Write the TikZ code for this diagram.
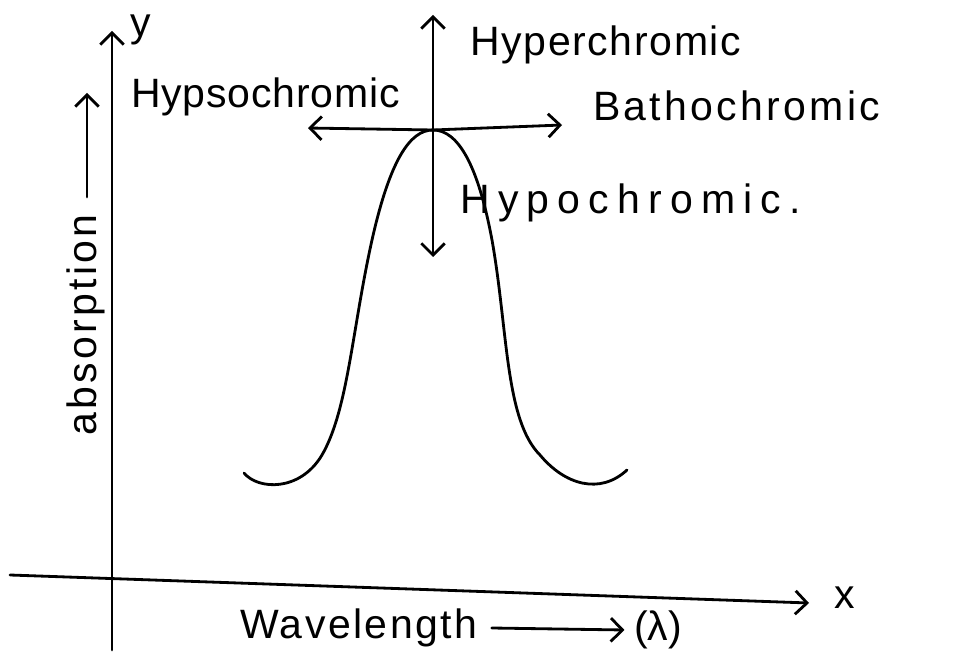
\documentclass[tikz,border=0pt]{standalone}
\usepackage{fontspec}
\setmainfont{Liberation Sans}
\usetikzlibrary{arrows.meta}
\tikzset{
  pen/.style={line width=2.4pt, black, line cap=round, line join=round},
  tip/.style={-{Straight Barb[length=10pt,width=20pt,line width=2.4pt]}},
  lbl/.style={inner sep=0pt, font=\fontsize{35}{38}\selectfont},
}
\begin{document}
\begin{tikzpicture}[x=0.03cm,y=-0.03cm]
\useasboundingbox (0,0) rectangle (967,655);
\fill[white] (0,0) rectangle (967,655);
% axes
\coordinate (yb) at (112,650);
\coordinate (yt) at (112,31);
\coordinate (xl) at (10,575);
\coordinate (xr) at (809,603);
\draw[pen,tip] (yb) -- (yt);
\draw[pen,tip] (xl) -- (xr);
\node[lbl] (ylab) at (141,30) {y};
\node[lbl] (xlab) at (845,598) {x};
% absorption label
\node[lbl,rotate=90] (abs) at (86,325) {\addfontfeature{LetterSpace=8}absorption};
\coordinate (aa) at (87,197);
\coordinate (ab) at (87,93);
\draw[pen,tip] (aa) -- (ab);
% wavelength label
\node[lbl,anchor=west] (wl) at (240,628) {\addfontfeature{LetterSpace=6}Wavelength};
\node[lbl] (lam) at (658,630) {(λ)};
\draw[pen,tip] ([xshift=12]wl.east) -- ([xshift=-8]lam.west);
% absorption band
\draw[pen] (244,473) .. controls (258,490) and (300,492) .. (322,455)
  .. controls (348,410) and (352,330) .. (372,240)
  .. controls (390,160) and (410,130) .. (433,130) coordinate (peak)
  .. controls (458,130) and (478,165) .. (492,240)
  .. controls (508,330) and (505,420) .. (540,455)
  .. controls (565,485) and (600,495) .. (627,470);
% shift arrows
\coordinate (vt) at (433,15);
\coordinate (vb) at (433,257);
\coordinate (hl) at (308,128);
\coordinate (hr) at (562,125);
\draw[pen,tip] (peak) -- (vt);
\draw[pen,tip] (peak) -- (vb);
\draw[pen,tip] (peak) -- (hl);
\draw[pen,tip] (peak) -- (hr);
% labels
\node[lbl,anchor=west] (hyper) at (470,45) {\addfontfeature{LetterSpace=4}Hyperchromic};
\node[lbl,anchor=west] (hypso) at (131,97) {\addfontfeature{LetterSpace=2}Hypsochromic};
\node[lbl,anchor=west] (batho) at (593,106) {\addfontfeature{LetterSpace=8}Bathochromic};
\node[lbl,anchor=west] (hypo) at (460,203) {\addfontfeature{LetterSpace=20}Hypochromic.};
\end{tikzpicture}
\end{document}
